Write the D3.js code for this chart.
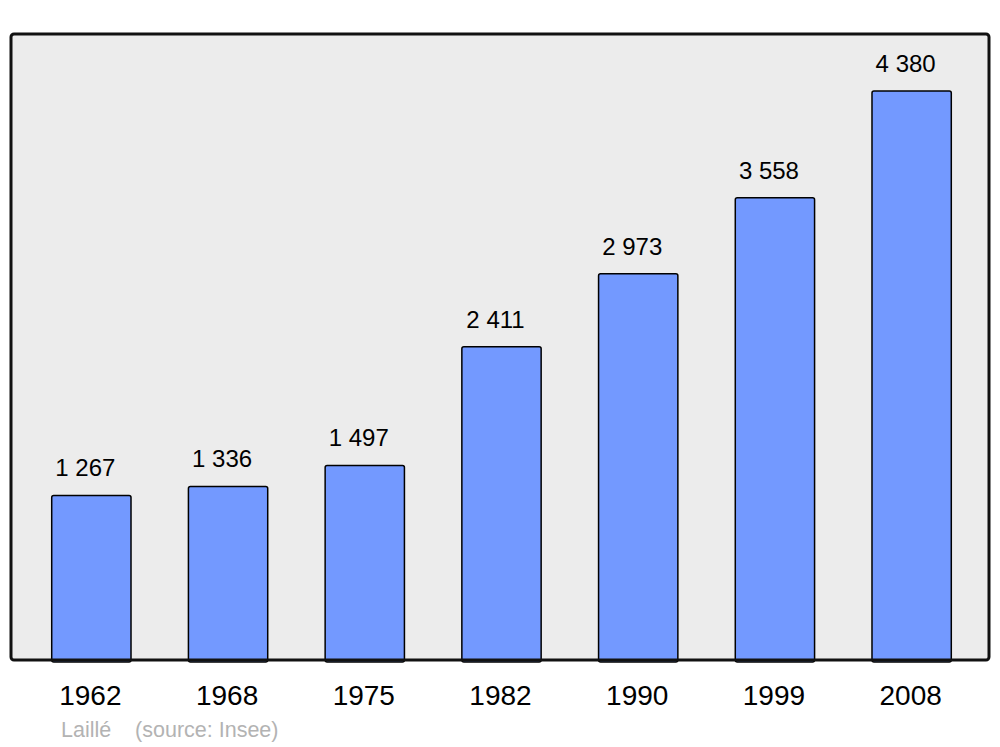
<!DOCTYPE html>
<html>
<head>
<meta charset="utf-8">
<script src="https://cdnjs.cloudflare.com/ajax/libs/d3/7.8.5/d3.min.js"></script>
<title>Laillé</title>
<style>
  body{ margin: 0; background-color: #fff; }
  text{ font-family: "Liberation Sans", Arial, sans-serif; }
</style>
</head>
<body>
<script>
var years = ["1962", "1968", "1975", "1982", "1990", "1999", "2008"],
    population = [1267, 1336, 1497, 2411, 2973, 3558, 4380],
    labels = ["1 267", "1 336", "1 497", "2 411", "2 973", "3 558", "4 380"];

var w = 1000, h = 747,
    pLeft = 11, pRight = 989, pTop = 34, pBottom = 660;

var svg = d3.select("body").append("svg")
    .attr("width", w)
    .attr("height", h);

var x = d3.scaleBand()
    .domain(years)
    .range([23, 980])
    .paddingInner(0.42)
    .paddingOuter(0.21);

var y = d3.scaleLinear()
    .domain([0, d3.max(population) * 1.1])
    .range([pBottom, pTop]);

// panel
svg.append("rect")
    .attr("x", pLeft)
    .attr("y", pTop)
    .attr("width", pRight - pLeft)
    .attr("height", pBottom - pTop)
    .attr("rx", 3)
    .attr("fill", "#ececec");

svg.selectAll("rect.bar")
  .data(population)
  .enter().append("rect")
    .attr("class", "bar")
    .attr("x", function(d, i){ return x(years[i]); })
    .attr("y", function(d){ return y(d); })
    .attr("width", x.bandwidth())
    .attr("height", function(d){ return y(0) - y(d) + 2; })
    .attr("rx", 2)
    .attr("fill", "#7399ff")
    .attr("stroke", "#000")
    .attr("stroke-width", 1.5);

svg.selectAll("text.val")
  .data(population)
  .enter().append("text")
    .attr("class", "val")
    .attr("x", function(d, i){ return x(years[i]) + x.bandwidth()/2 - 6; })
    .attr("y", function(d){ return y(d) - 19; })
    .attr("text-anchor", "middle")
    .attr("font-size", 24)
    .text(function(d, i){ return labels[i]; });

// panel border on top
svg.append("rect")
    .attr("x", pLeft)
    .attr("y", pTop)
    .attr("width", pRight - pLeft)
    .attr("height", pBottom - pTop)
    .attr("rx", 3)
    .attr("fill", "none")
    .attr("stroke", "#111")
    .attr("stroke-width", 3);

svg.selectAll("text.year")
  .data(years)
  .enter().append("text")
    .attr("class", "year")
    .attr("x", function(d){ return x(d) + x.bandwidth()/2 - 1; })
    .attr("y", 705)
    .attr("text-anchor", "middle")
    .attr("font-size", 28)
    .text(function(d){ return d; });

svg.append("text")
    .attr("x", 61)
    .attr("y", 737)
    .attr("font-size", 21.5)
    .attr("fill", "#b3b3b3")
    .attr("xml:space", "preserve")
    .text("Laillé    (source: Insee)");
</script>
</body>
</html>
